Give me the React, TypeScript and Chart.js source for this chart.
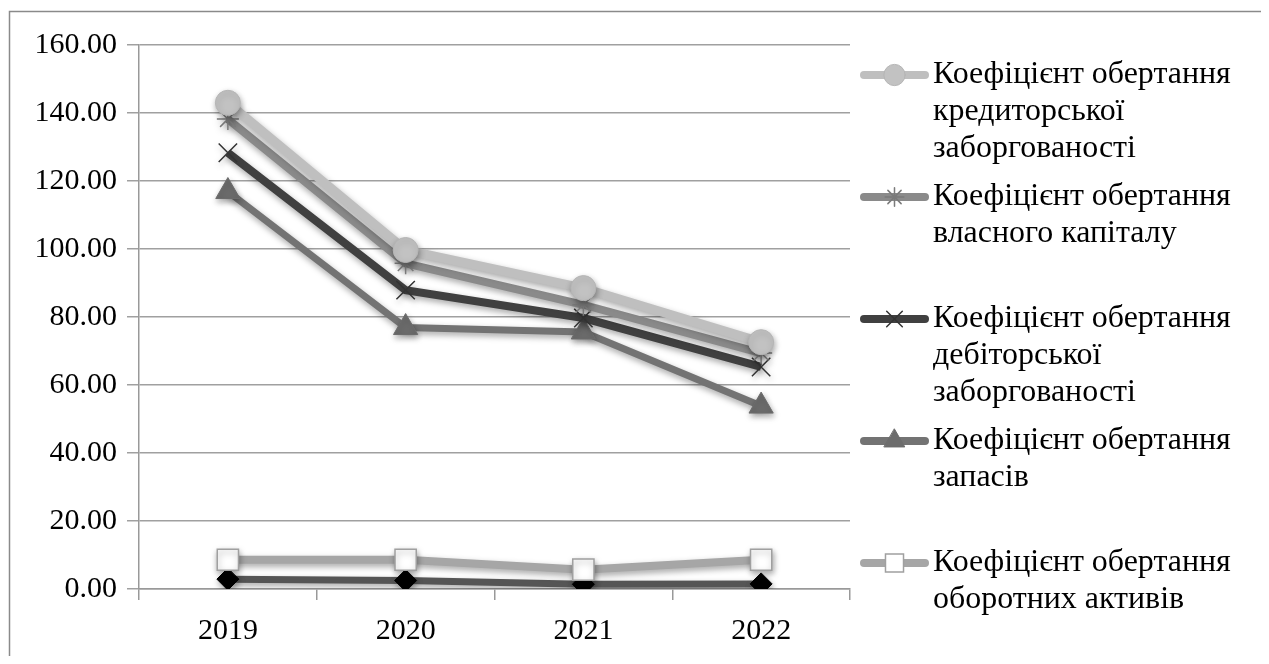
import React, { useEffect, useRef } from "react";
import { Chart, registerables } from "chart.js";
import { drawPoint } from "chart.js/helpers";

Chart.register(...registerables);

const categories = ["2019", "2020", "2021", "2022"];
const creditorTurnover = [143.0, 99.7, 88.5, 72.6];
const equityTurnover = [138.2, 95.8, 83.6, 69.4];
const debtorTurnover = [128.3, 87.9, 79.7, 65.3];
const inventoryTurnover = [116.9, 76.9, 75.6, 53.8];
const currentAssetsTurnover = [8.6, 8.6, 5.7, 8.6];
const assetsTurnover = [2.9, 2.5, 1.4, 1.5];
const yTicks = [0, 20, 40, 60, 80, 100, 120, 140, 160];

const legendLabels: string[][] = [
  ["Коефіцієнт обертання", "кредиторської", "заборгованості"],
  ["Коефіцієнт обертання", "власного капіталу"],
  ["Коефіцієнт обертання", "дебіторської", "заборгованості"],
  ["Коефіцієнт обертання", "запасів"],
  ["Коефіцієнт обертання", "оборотних активів"],
];

const FONT = "'Liberation Serif', 'Times New Roman', serif";
const FONT_SIZE = 30;
const LEGEND_FONT_SIZE = 31;

const shadowPlugin = {
  id: "shadow",
  beforeDatasetsDraw(chart: any) {
    const ctx = chart.ctx;
    ctx.save();
    ctx.shadowColor = "rgba(0,0,0,0.35)";
    ctx.shadowBlur = 6;
    ctx.shadowOffsetX = 1;
    ctx.shadowOffsetY = 3;
  },
  afterDatasetsDraw(chart: any) {
    chart.ctx.restore();
  },
};

const framePlugin = {
  id: "frame",
  beforeDraw(chart: any) {
    const ctx = chart.ctx;
    ctx.save();
    ctx.strokeStyle = "#8a8a8a";
    ctx.lineWidth = 1.5;
    ctx.beginPath();
    ctx.moveTo(1.5, chart.height);
    ctx.lineTo(1.5, 3.5);
    ctx.lineTo(chart.width, 3.5);
    ctx.stroke();
    ctx.restore();
  },
};

const sideLegendPlugin = {
  id: "sideLegend",
  afterDraw(chart: any) {
    const ctx = chart.ctx;
    const area = chart.chartArea;
    const lineStart = area.right + 14;
    const lineEnd = area.right + 75;
    const textX = area.right + 83;
    const lineH = 36.7;
    const slot = 122;
    ctx.save();
    legendLabels.forEach((lines, i) => {
      const ds = chart.data.datasets[i];
      const y = area.top + 30 + slot * i;
      ctx.strokeStyle = ds.borderColor;
      ctx.lineWidth = 8;
      ctx.lineCap = "round";
      ctx.beginPath();
      ctx.moveTo(lineStart, y);
      ctx.lineTo(lineEnd, y);
      ctx.stroke();
      ctx.fillStyle = ds.pointBackgroundColor;
      ctx.strokeStyle = ds.pointBorderColor;
      ctx.lineWidth = ds.pointBorderWidth;
      drawPoint(
        ctx,
        { pointStyle: ds.pointStyle, radius: ds.pointRadius * 0.85, rotation: 0, borderWidth: ds.pointBorderWidth },
        (lineStart + lineEnd) / 2,
        y
      );
      ctx.fillStyle = "#000";
      ctx.font = `${LEGEND_FONT_SIZE}px ${FONT}`;
      ctx.textAlign = "left";
      ctx.textBaseline = "middle";
      lines.forEach((t, j) => {
        ctx.save();
        ctx.translate(textX, y + j * lineH);
        ctx.scale(1.03, 1);
        ctx.fillText(t, 0, 0);
        ctx.restore();
      });
    });
    ctx.restore();
  },
};

export default function App() {
  const ref = useRef<HTMLCanvasElement | null>(null);
  useEffect(() => {
    if (!ref.current) return;
    const mk = (
      label: string,
      data: number[],
      line: string,
      style: string,
      fill: string,
      border: string,
      radius: number,
      width: number,
      pbw: number
    ) => ({
      label,
      data,
      borderColor: line,
      borderWidth: width,
      pointStyle: style,
      pointBackgroundColor: fill,
      pointBorderColor: border,
      pointBorderWidth: pbw,
      pointRadius: radius,
      pointHoverRadius: radius,
      tension: 0,
      fill: false,
    });
    const chart = new Chart(ref.current, {
      type: "line",
      data: {
        labels: categories,
        datasets: [
          mk(legendLabels[0].join(" "), creditorTurnover, "#bfbfbf", "circle", "#c2c2c2", "#b5b5b5", 12.5, 9, 1),
          mk(legendLabels[1].join(" "), equityTurnover, "#8a8a8a", "star", "#8a8a8a", "#7a7a7a", 11, 8, 1.5),
          mk(legendLabels[2].join(" "), debtorTurnover, "#404040", "crossRot", "#333", "#333", 13, 8, 1.5),
          mk(legendLabels[3].join(" "), inventoryTurnover, "#737373", "triangle", "#6c6c6c", "#6c6c6c", 14, 7, 1),
          mk(legendLabels[4].join(" "), currentAssetsTurnover, "#a6a6a6", "rect", "#ffffff", "#a0a0a0", 15, 8, 1.5),
          mk("Коефіцієнт оборотності активів", assetsTurnover, "#555555", "rectRot", "#000000", "#000000", 11, 7, 1),
        ] as any,
      },
      options: {
        animation: false,
        responsive: true,
        maintainAspectRatio: false,
        layout: { padding: { left: 0, top: 37, right: 411, bottom: 0 } },
        plugins: { legend: { display: false }, tooltip: { enabled: false } },
        scales: {
          x: {
            type: "category",
            offset: true,
            grid: {
              display: true,
              offset: true,
              drawOnChartArea: false,
              drawTicks: true,
              tickLength: 11,
              color: "#999",
              lineWidth: 1.5,
            },
            border: { display: true, color: "#999", width: 1.5 },
            ticks: {
              color: "#000",
              font: { family: FONT, size: FONT_SIZE },
              padding: 13,
              maxRotation: 0,
            },
            afterFit: (s: any) => {
              s.height = 67;
            },
          },
          y: {
            min: 0,
            max: 160,
            afterBuildTicks: (s: any) => {
              s.ticks = yTicks.map((v) => ({ value: v }));
            },
            grid: {
              color: "#a0a0a0",
              lineWidth: 1.5,
              tickLength: 12,
              drawTicks: true,
            },
            border: { display: true, color: "#999", width: 1.5 },
            ticks: {
              color: "#000",
              font: { family: FONT, size: FONT_SIZE },
              padding: 10,
              callback: (v: any) => Number(v).toFixed(2),
            },
            afterFit: (s: any) => {
              s.width = 131;
            },
          },
        },
      },
      plugins: [framePlugin, shadowPlugin, sideLegendPlugin],
    });
    return () => chart.destroy();
  }, []);
  return (
    <div style={{ width: 1253, height: 648, position: "relative", background: "#fff" }}>
      <canvas ref={ref} />
    </div>
  );
}
